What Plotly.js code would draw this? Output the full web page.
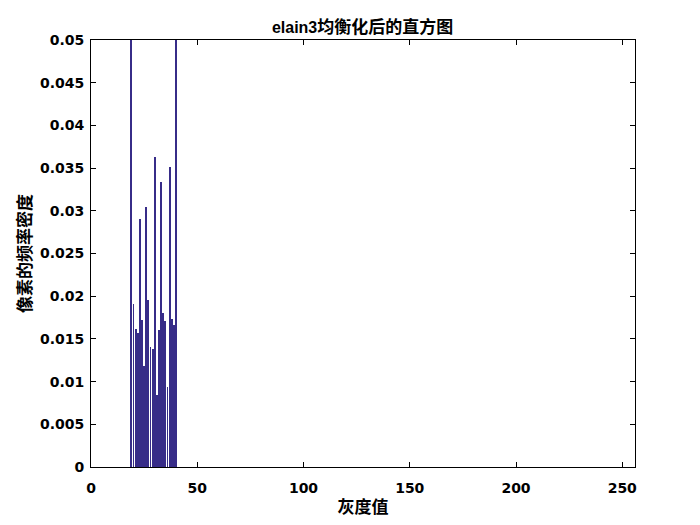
<!DOCTYPE html>
<html>
<head>
<meta charset="utf-8">
<script src="https://cdn.plot.ly/plotly-3.0.1.min.js"></script>
<style>html,body{margin:0;padding:0;background:#fff;}#chart{width:700px;height:525px;}</style>
</head>
<body>
<div id="chart"></div>
<script>
// Gray levels and their normalized frequencies
const grayLevels = [19,20,21,22,23,24,25,26,27,28,29,30,31,32,33,34,35,36,37,38,39,40];
const density = [0.25,0.0191,0.0162,0.0157,0.0290,0.0172,0.0118,0.0304,0.0196,0.0141,0.0138,0.0363,0.0084,0.0160,0.0334,0.0180,0.0171,0.0094,0.0351,0.0173,0.0166,0.35];
const xTicks = [0,50,100,150,200,250];
const yTicks = [0,0.005,0.01,0.015,0.02,0.025,0.03,0.035,0.04,0.045,0.05];
const yTickText = ['0','0.005','0.01','0.015','0.02','0.025','0.03','0.035','0.04','0.045','0.05'];

const tickFont = {family:'DejaVu Sans, sans-serif', size:14, color:'#000', weight:'bold'};
const cjkFont = {family:'Noto Sans CJK SC, sans-serif', size:17, color:'#000', weight:'bold'};

Plotly.newPlot('chart', [{
  type:'bar', x:grayLevels, y:density, width:0.9,
  marker:{color:'#372c88', line:{width:0}}
}], {
  width:700, height:525,
  paper_bgcolor:'#fff', plot_bgcolor:'#fff',
  margin:{l:91, r:65, t:40, b:58},
  showlegend:false,
  bargap:0,
  title:{text:'elain3<span style="font-family:Noto Sans CJK SC;font-size:17px">均衡化后的直方图</span>',
         x:0.518, xanchor:'center', y:0.948, yanchor:'middle',
         font:{family:'Liberation Sans, sans-serif', size:16, color:'#000', weight:'bold'}},
  xaxis:{range:[0,256], tickvals:xTicks, ticktext:xTicks.map(String), ticks:'inside', ticklen:5,
         tickcolor:'#000', showline:true, linecolor:'#000', linewidth:1, mirror:'ticks',
         showgrid:false, zeroline:false, tickfont:tickFont, ticklabelstandoff:8,
         title:{text:'灰度值', font:cjkFont, standoff:6}},
  yaxis:{range:[0,0.05], tickvals:yTicks, ticktext:yTickText, ticks:'inside', ticklen:5,
         tickcolor:'#000', showline:true, linecolor:'#000', linewidth:1, mirror:'ticks',
         showgrid:false, zeroline:false, tickfont:tickFont, ticklabelstandoff:3,
         title:{text:'像素的频率密度', font:cjkFont, standoff:3}}
}, {displayModeBar:false, staticPlot:true});
</script>
</body>
</html>
